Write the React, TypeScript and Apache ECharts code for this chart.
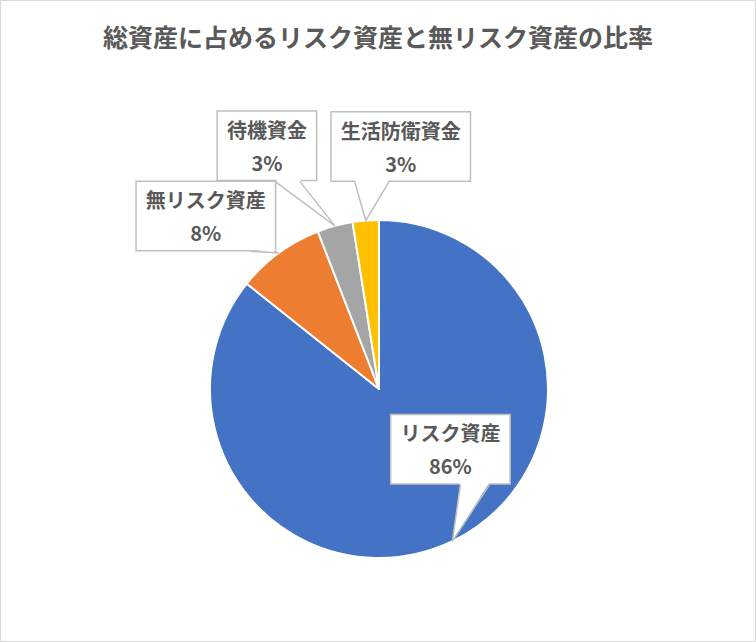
import { useEffect, useRef } from 'react';
import * as echarts from 'echarts';

const chartTitle = '総資産に占めるリスク資産と無リスク資産の比率';
const categories = ['リスク資産', '無リスク資産', '待機資金', '生活防衛資金'];
const shares = [85.7, 8.4, 3.4, 2.5];
const sliceColors = ['#4472C4', '#ED7D31', '#A5A5A5', '#FFC000'];

// callout box centre relative to the slice anchor, and where the pointer leaves the box bottom
const callouts = [
  { dx: -2, dy: -92, base: [10, 39] },
  { dx: -73, dy: -37, base: [45, 68] },
  { dx: -68, dy: -80, base: [8, 33] },
  { dx: 35, dy: -74, base: [-46, -12] },
];

const FONT = '"Noto Sans CJK JP", "Noto Sans", sans-serif';
const TEXT_COLOR = '#595959';
const BOX_BORDER = '#BFBFBF';

function App() {
  const chartRef = useRef<HTMLDivElement>(null);

  useEffect(() => {
    if (!chartRef.current) return;
    const chart = echarts.init(chartRef.current, null, { renderer: 'svg' });

    const anchors: number[][] = [];
    const boxes: { x: number; y: number; w: number; h: number }[] = [];

    const frame = {
      id: 'frame',
      type: 'rect',
      z: 20,
      shape: { x: 0.5, y: 0.5, width: 755, height: 641 },
      style: { fill: 'none', stroke: '#D9D9D9', lineWidth: 1 },
    };

    const option: any = {
      animation: false,
      title: {
        text: chartTitle,
        left: 'center',
        top: 23,
        padding: 0,
        textStyle: {
          color: TEXT_COLOR,
          fontFamily: FONT,
          fontSize: 25,
          fontWeight: 'bold',
        },
      },
      series: [
        {
          type: 'pie',
          center: [379, 389],
          radius: 169,
          startAngle: 90,
          clockwise: true,
          avoidLabelOverlap: false,
          percentPrecision: 0,
          data: categories.map((name, i) => ({
            name,
            value: shares[i],
            itemStyle: { color: sliceColors[i] },
          })),
          itemStyle: { borderColor: '#fff', borderWidth: 2 },
          label: {
            show: true,
            position: 'outside',
            formatter: '{b}\n{d}%',
            color: TEXT_COLOR,
            fontFamily: FONT,
            fontSize: 20,
            fontWeight: 'bold',
            lineHeight: 33,
            align: 'center',
            backgroundColor: '#fff',
            borderColor: BOX_BORDER,
            borderWidth: 1.5,
            padding: [2, 9, 0, 9],
          },
          labelLine: { show: true, lineStyle: { opacity: 0 } },
          emphasis: { disabled: true },
          labelLayout: (p: any) => {
            const pts = p.labelLinePoints;
            if (!pts || !pts[0]) return {};
            const c = callouts[p.dataIndex];
            const x = pts[0][0] + c.dx;
            const y = pts[0][1] + c.dy;
            anchors[p.dataIndex] = pts[0];
            boxes[p.dataIndex] = { x, y, w: p.labelRect.width, h: p.labelRect.height };
            return { x, y, align: 'center', verticalAlign: 'middle', labelLinePoints: pts };
          },
        },
      ],
      graphic: { elements: [frame] },
    };

    chart.setOption(option);

    // callout pointers, built from where the library put the slices and labels
    const pointers: any[] = [];
    anchors.forEach((tip, i) => {
      const b = boxes[i];
      if (!tip || !b) return;
      const bottom = b.y + b.h / 2;
      const [a1, a2] = callouts[i].base;
      pointers.push({
        id: 'fill' + i,
        type: 'polygon',
        z: 10,
        shape: { points: [[b.x + a1, bottom - 2], tip, [b.x + a2, bottom - 2]] },
        style: { fill: '#fff', stroke: 'none' },
      });
      pointers.push({
        id: 'edge' + i,
        type: 'polyline',
        z: 11,
        shape: { points: [[b.x + a1, bottom], tip, [b.x + a2, bottom]] },
        style: { fill: 'none', stroke: BOX_BORDER, lineWidth: 1.5 },
      });
    });
    chart.setOption({ graphic: { elements: [frame, ...pointers] } });

    return () => {
      chart.dispose();
    };
  }, []);

  return (
    <div
      ref={chartRef}
      style={{ position: 'fixed', left: 0, top: 0, width: '756px', height: '642px', background: '#fff' }}
    />
  );
}

export default App;
